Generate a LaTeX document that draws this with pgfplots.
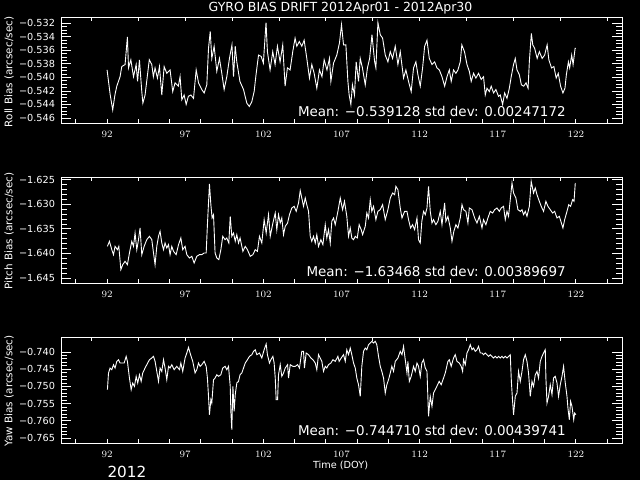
\documentclass[border=0pt]{standalone}
\usepackage{pgfplots}
\pgfplotsset{compat=1.18}
\usepackage{fontspec}
\setmainfont{DejaVu Sans}

\pgfplotsset{
  gyro/.style={
    scale only axis, width=403.92pt, height=76.32pt,
    anchor=south west,
    xmin=89.05, xmax=124.95,
    axis line style={white, line width=0.7pt},
    tick style={white, line width=0.6pt},
    tick align=inside,
    major tick length=7pt, minor tick length=4pt,
    xtick={92,97,...,122}, xtick style={draw=none},
    ticklabel style={text=white, font=\fontsize{7}{8}\selectfont},
    xticklabel style={yshift=-2.5pt},
    yticklabel style={xshift=-0.8pt},
    scaled y ticks=false,
  },
  gline/.style={draw=white, line width=0.65pt, mark=none},
}
\tikzset{mtick/.style={draw=white, line width=0.6pt}}

\begin{document}
\begin{tikzpicture}
\fill[black] (0,0) rectangle (460.8pt,345.6pt);
\useasboundingbox (0,0) rectangle (460.8pt,345.6pt);

% Roll
\begin{axis}[gyro, at={(43.92pt,257.04pt)}, height=76.1pt,
  ymin=-0.54674, ymax=-0.53112,
  ytick={-0.546,-0.544,-0.542,-0.540,-0.538,-0.536,-0.534,-0.532},
  yticklabels={−0.546,−0.544,−0.542,−0.540,−0.538,−0.536,−0.534,−0.532},
  minor y tick num=3]
\addplot[gline] coordinates {(92.0,-0.5389) (92.2,-0.5426) (92.36,-0.5448) (92.5,-0.5426) (92.62,-0.5413) (92.83,-0.5399) (92.94,-0.5384) (93.15,-0.5381) (93.3,-0.5340) (93.37,-0.5386) (93.52,-0.5374) (93.69,-0.5399) (93.86,-0.5381) (93.95,-0.5406) (94.07,-0.5374) (94.22,-0.5421) (94.29,-0.5438) (94.43,-0.5426) (94.7,-0.5374) (94.86,-0.5381) (94.96,-0.5399) (95.07,-0.5386) (95.22,-0.5401) (95.35,-0.5384) (95.5,-0.5426) (95.65,-0.5384) (95.82,-0.5394) (96.03,-0.5389) (96.2,-0.5421) (96.35,-0.5408) (96.56,-0.5413) (96.67,-0.5399) (96.78,-0.5433) (96.93,-0.5426) (97.06,-0.5440) (97.2,-0.5428) (97.36,-0.5426) (97.53,-0.5431) (97.7,-0.5389) (97.85,-0.5408) (98.06,-0.5418) (98.21,-0.5423) (98.38,-0.5411) (98.49,-0.5357) (98.6,-0.5332) (98.7,-0.5372) (98.85,-0.5354) (99.02,-0.5391) (99.19,-0.5372) (99.34,-0.5394) (99.49,-0.5418) (99.66,-0.5399) (99.83,-0.5372) (99.99,-0.5352) (100.09,-0.5399) (100.2,-0.5354) (100.3,-0.5377) (100.5,-0.5406) (100.73,-0.5418) (100.94,-0.5438) (101.1,-0.5443) (101.26,-0.5436) (101.41,-0.5421) (101.53,-0.5396) (101.69,-0.5367) (101.86,-0.5369) (102.0,-0.5379) (102.17,-0.5319) (102.26,-0.5362) (102.43,-0.5389) (102.6,-0.5362) (102.75,-0.5381) (102.9,-0.5354) (103.07,-0.5377) (103.24,-0.5352) (103.39,-0.5413) (103.54,-0.5386) (103.71,-0.5389) (103.88,-0.5362) (104.03,-0.5342) (104.14,-0.5354) (104.3,-0.5347) (104.46,-0.5354) (104.61,-0.5345) (104.78,-0.5372) (104.95,-0.5401) (105.1,-0.5381) (105.25,-0.5394) (105.42,-0.5416) (105.59,-0.5389) (105.75,-0.5399) (105.89,-0.5374) (106.07,-0.5389) (106.23,-0.5372) (106.32,-0.5406) (106.49,-0.5379) (106.7,-0.5367) (106.87,-0.5349) (107.0,-0.5322) (107.13,-0.5352) (107.28,-0.5352) (107.41,-0.5406) (107.49,-0.5426) (107.6,-0.5440) (107.7,-0.5411) (107.83,-0.5426) (107.94,-0.5377) (108.09,-0.5406) (108.2,-0.5372) (108.34,-0.5386) (108.52,-0.5411) (108.66,-0.5386) (108.8,-0.5372) (108.95,-0.5337) (109.12,-0.5377) (109.2,-0.5386) (109.33,-0.5319) (109.48,-0.5337) (109.63,-0.5342) (109.8,-0.5367) (109.97,-0.5377) (110.12,-0.5362) (110.27,-0.5372) (110.44,-0.5354) (110.61,-0.5381) (110.76,-0.5362) (110.97,-0.5401) (111.12,-0.5389) (111.29,-0.5406) (111.46,-0.5421) (111.61,-0.5386) (111.76,-0.5377) (111.89,-0.5396) (112.04,-0.5413) (112.19,-0.5386) (112.32,-0.5354) (112.47,-0.5345) (112.62,-0.5372) (112.79,-0.5381) (112.96,-0.5377) (113.11,-0.5386) (113.26,-0.5389) (113.43,-0.5399) (113.6,-0.5413) (113.75,-0.5399) (113.9,-0.5389) (114.02,-0.5406) (114.17,-0.5389) (114.32,-0.5394) (114.45,-0.5389) (114.6,-0.5377) (114.7,-0.5352) (114.87,-0.5362) (115.03,-0.5381) (115.18,-0.5391) (115.3,-0.5406) (115.45,-0.5394) (115.6,-0.5401) (115.77,-0.5394) (115.94,-0.5403) (116.09,-0.5399) (116.2,-0.5426) (116.31,-0.5416) (116.46,-0.5421) (116.58,-0.5413) (116.73,-0.5423) (116.88,-0.5418) (117.05,-0.5428) (117.16,-0.5426) (117.31,-0.5440) (117.44,-0.5423) (117.59,-0.5431) (117.74,-0.5416) (117.86,-0.5399) (118.01,-0.5381) (118.12,-0.5372) (118.23,-0.5389) (118.38,-0.5396) (118.51,-0.5411) (118.66,-0.5413) (118.81,-0.5408) (118.94,-0.5416) (119.02,-0.5377) (119.15,-0.5335) (119.24,-0.5352) (119.36,-0.5357) (119.52,-0.5372) (119.66,-0.5362) (119.84,-0.5372) (120.0,-0.5367) (120.16,-0.5352) (120.27,-0.5374) (120.44,-0.5386) (120.59,-0.5384) (120.74,-0.5401) (120.87,-0.5394) (121.02,-0.5413) (121.17,-0.5423) (121.3,-0.5416) (121.39,-0.5396) (121.52,-0.5377) (121.6,-0.5386) (121.73,-0.5367) (121.82,-0.5381) (121.95,-0.5357) (122.0,-0.5357)};
\pgfplotsinvokeforeach{90,92,94,96,98,100,102,104,106,108,110,112,114,116,118,120,122,124}{\draw[mtick] (axis cs:#1,-0.54674) -- (axis cs:#1,-0.54612);}
\pgfplotsinvokeforeach{91,94,97,100,103,106,109,112,115,118,121,124}{\draw[mtick] (axis cs:#1,-0.53112) -- (axis cs:#1,-0.53174);}
\end{axis}

% Pitch
\begin{axis}[gyro, at={(43.92pt,141.84pt)},
  ymin=-1.64602, ymax=-1.62445,
  ytick={-1.645,-1.640,-1.635,-1.630,-1.625},
  yticklabels={−1.645,−1.640,−1.635,−1.630,−1.625},
  minor y tick num=4]
\addplot[gline] coordinates {(92.02,-1.63856) (92.15,-1.63754) (92.30,-1.63924) (92.41,-1.64025) (92.51,-1.63856) (92.66,-1.63924) (92.75,-1.63856) (92.88,-1.64330) (93.0,-1.64229) (93.15,-1.64161) (93.30,-1.64229) (93.43,-1.63991) (93.58,-1.63754) (93.69,-1.63856) (93.79,-1.63585) (93.90,-1.63924) (94.01,-1.63720) (94.11,-1.63483) (94.22,-1.64025) (94.37,-1.63856) (94.54,-1.63720) (94.71,-1.63652) (94.86,-1.63720) (94.97,-1.63991) (95.07,-1.64229) (95.18,-1.63856) (95.29,-1.63652) (95.39,-1.63551) (95.50,-1.63788) (95.61,-1.63924) (95.71,-1.63788) (95.82,-1.63890) (95.93,-1.63822) (96.03,-1.64025) (96.14,-1.63856) (96.25,-1.63958) (96.42,-1.64025) (96.57,-1.63822) (96.72,-1.63686) (96.84,-1.63924) (96.99,-1.63856) (97.10,-1.64025) (97.27,-1.64093) (97.42,-1.64059) (97.57,-1.64195) (97.74,-1.64059) (97.91,-1.64025) (98.06,-1.64025) (98.21,-1.63991) (98.34,-1.63991) (98.42,-1.63415) (98.55,-1.62588) (98.64,-1.63008) (98.72,-1.63279) (98.81,-1.63211) (98.91,-1.63991) (99.02,-1.64093) (99.15,-1.64127) (99.28,-1.63924) (99.40,-1.63652) (99.55,-1.63720) (99.66,-1.63686) (99.79,-1.63788) (99.88,-1.63245) (99.98,-1.63652) (100.09,-1.63585) (100.20,-1.63754) (100.30,-1.63618) (100.41,-1.63788) (100.51,-1.63686) (100.69,-1.63958) (100.84,-1.63856) (100.98,-1.63924) (101.16,-1.64059) (101.33,-1.64025) (101.48,-1.63924) (101.62,-1.63958) (101.75,-1.63652) (101.90,-1.63788) (102.05,-1.63313) (102.18,-1.63585) (102.33,-1.63211) (102.44,-1.63652) (102.61,-1.63381) (102.76,-1.63178) (102.86,-1.63517) (102.97,-1.63211) (103.08,-1.63381) (103.18,-1.63279) (103.29,-1.63618) (103.40,-1.63449) (103.55,-1.63381) (103.67,-1.63211) (103.82,-1.63076) (103.97,-1.63042) (104.10,-1.63144) (104.25,-1.62974) (104.36,-1.62723) (104.46,-1.62873) (104.57,-1.63042) (104.68,-1.62873) (104.78,-1.63008) (104.89,-1.63144) (105.0,-1.63652) (105.10,-1.63754) (105.21,-1.63652) (105.32,-1.63788) (105.42,-1.63618) (105.53,-1.63856) (105.68,-1.63720) (105.81,-1.63822) (105.96,-1.63415) (106.06,-1.63686) (106.17,-1.63517) (106.28,-1.63788) (106.38,-1.63347) (106.49,-1.63279) (106.60,-1.63415) (106.77,-1.63144) (106.92,-1.62873) (107.07,-1.63110) (107.19,-1.62940) (107.34,-1.63245) (107.45,-1.63652) (107.56,-1.63483) (107.66,-1.63686) (107.77,-1.63720) (107.88,-1.63652) (108.01,-1.63686) (108.13,-1.63415) (108.26,-1.63517) (108.35,-1.63618) (108.52,-1.63449) (108.62,-1.63178) (108.73,-1.63279) (108.84,-1.62906) (108.94,-1.63144) (109.05,-1.63042) (109.20,-1.63313) (109.33,-1.63144) (109.48,-1.63110) (109.63,-1.63008) (109.80,-1.63313) (109.97,-1.63110) (110.12,-1.62873) (110.27,-1.62771) (110.40,-1.62805) (110.48,-1.62635) (110.61,-1.62703) (110.76,-1.63076) (110.87,-1.63279) (111.04,-1.63144) (111.19,-1.63144) (111.29,-1.63313) (111.42,-1.63483) (111.55,-1.63415) (111.68,-1.63517) (111.83,-1.63279) (111.93,-1.63720) (112.04,-1.63788) (112.14,-1.63347) (112.25,-1.63144) (112.36,-1.63211) (112.47,-1.63076) (112.57,-1.62635) (112.68,-1.63144) (112.79,-1.63381) (112.89,-1.63313) (113.04,-1.63415) (113.17,-1.63347) (113.32,-1.63144) (113.43,-1.63415) (113.60,-1.62974) (113.68,-1.63347) (113.81,-1.63245) (113.96,-1.63483) (114.07,-1.63754) (114.19,-1.63551) (114.32,-1.63415) (114.45,-1.63483) (114.60,-1.63279) (114.71,-1.63008) (114.81,-1.63110) (114.96,-1.63144) (115.09,-1.63381) (115.18,-1.63076) (115.35,-1.63110) (115.52,-1.63279) (115.67,-1.63381) (115.82,-1.63245) (115.99,-1.63483) (116.09,-1.63313) (116.24,-1.63415) (116.37,-1.63279) (116.52,-1.63144) (116.67,-1.63178) (116.80,-1.63110) (116.95,-1.63076) (117.10,-1.63144) (117.22,-1.63076) (117.37,-1.63042) (117.48,-1.63313) (117.59,-1.63144) (117.69,-1.63245) (117.80,-1.62906) (117.91,-1.62567) (118.01,-1.62771) (118.16,-1.62873) (118.29,-1.63110) (118.44,-1.63144) (118.55,-1.63110) (118.65,-1.63211) (118.76,-1.63144) (118.87,-1.63245) (119.02,-1.63042) (119.14,-1.62534) (119.29,-1.62771) (119.40,-1.62669) (119.51,-1.62805) (119.66,-1.62940) (119.78,-1.63042) (119.93,-1.63144) (120.08,-1.62940) (120.21,-1.63042) (120.36,-1.63110) (120.51,-1.63178) (120.64,-1.63144) (120.79,-1.63279) (120.94,-1.63245) (121.07,-1.63381) (121.17,-1.63483) (121.28,-1.63313) (121.43,-1.63144) (121.54,-1.63008) (121.66,-1.63042) (121.79,-1.62906) (121.88,-1.62940) (121.96,-1.62567)};
\pgfplotsinvokeforeach{90,92,94,96,98,100,102,104,106,108,110,112,114,116,118,120,122,124}{\draw[mtick] (axis cs:#1,-1.64602) -- (axis cs:#1,-1.64517);}
\pgfplotsinvokeforeach{91,94,97,100,103,106,109,112,115,118,121,124}{\draw[mtick] (axis cs:#1,-1.62445) -- (axis cs:#1,-1.62530);}
\end{axis}

% Yaw
\begin{axis}[gyro, at={(43.92pt,26.64pt)},
  ymin=-0.76645, ymax=-0.73564,
  ytick={-0.765,-0.760,-0.755,-0.750,-0.745,-0.740},
  yticklabels={−0.765,−0.760,−0.755,−0.750,−0.745,−0.740},
  minor y tick num=4]
\addplot[gline] coordinates {(92.02,-0.75096) (92.09,-0.74611) (92.19,-0.74466) (92.30,-0.74514) (92.41,-0.74369) (92.51,-0.74466) (92.62,-0.74272) (92.73,-0.74224) (92.83,-0.74321) (92.94,-0.74321) (93.09,-0.74321) (93.22,-0.74127) (93.30,-0.74272) (93.43,-0.74757) (93.54,-0.75096) (93.64,-0.74902) (93.75,-0.74999) (93.86,-0.74708) (93.96,-0.74902) (94.07,-0.74660) (94.18,-0.74854) (94.28,-0.74611) (94.43,-0.74466) (94.54,-0.74369) (94.71,-0.74224) (94.86,-0.74175) (94.97,-0.74127) (95.07,-0.74272) (95.18,-0.74563) (95.29,-0.74854) (95.39,-0.74466) (95.50,-0.74563) (95.61,-0.74224) (95.71,-0.74466) (95.82,-0.74805) (95.93,-0.74417) (96.03,-0.74466) (96.14,-0.74369) (96.29,-0.74514) (96.46,-0.74417) (96.63,-0.74514) (96.72,-0.74321) (96.84,-0.74563) (96.99,-0.74175) (97.10,-0.74030) (97.21,-0.73865) (97.31,-0.74030) (97.48,-0.74272) (97.63,-0.74611) (97.74,-0.74514) (97.85,-0.74321) (97.95,-0.74417) (98.06,-0.74369) (98.21,-0.74272) (98.34,-0.74417) (98.42,-0.74757) (98.49,-0.75290) (98.55,-0.75823) (98.64,-0.75387) (98.70,-0.75484) (98.81,-0.74805) (98.91,-0.74757) (99.02,-0.74660) (99.13,-0.74708) (99.28,-0.74660) (99.40,-0.74466) (99.55,-0.74417) (99.66,-0.74514) (99.77,-0.74417) (99.88,-0.74999) (99.92,-0.75726) (99.98,-0.76259) (100.05,-0.74999) (100.13,-0.75726) (100.20,-0.75241) (100.30,-0.74902) (100.41,-0.74854) (100.51,-0.74660) (100.62,-0.74611) (100.73,-0.74466) (100.84,-0.74321) (100.98,-0.74224) (101.11,-0.74127) (101.26,-0.74078) (101.37,-0.73981) (101.48,-0.73933) (101.58,-0.74078) (101.75,-0.74030) (101.90,-0.74175) (102.05,-0.73933) (102.18,-0.73768) (102.26,-0.74078) (102.39,-0.74321) (102.48,-0.74224) (102.61,-0.74127) (102.69,-0.74321) (102.76,-0.74757) (102.82,-0.75387) (102.91,-0.75387) (102.97,-0.74660) (103.08,-0.74369) (103.18,-0.74708) (103.29,-0.74611) (103.40,-0.74466) (103.55,-0.74369) (103.61,-0.74757) (103.72,-0.74369) (103.89,-0.74417) (104.04,-0.74417) (104.19,-0.74369) (104.31,-0.74466) (104.46,-0.73981) (104.57,-0.73981) (104.63,-0.74466) (104.74,-0.74030) (104.89,-0.74078) (105.04,-0.74175) (105.17,-0.74224) (105.32,-0.74321) (105.42,-0.74514) (105.53,-0.74078) (105.64,-0.74175) (105.74,-0.74272) (105.85,-0.74563) (105.96,-0.74417) (106.06,-0.74466) (106.17,-0.74369) (106.32,-0.74321) (106.45,-0.74224) (106.60,-0.74272) (106.77,-0.74127) (106.85,-0.74272) (106.98,-0.74175) (107.13,-0.74078) (107.24,-0.74272) (107.34,-0.73933) (107.45,-0.74078) (107.56,-0.73885) (107.66,-0.74078) (107.77,-0.74321) (107.88,-0.74466) (107.98,-0.74757) (108.09,-0.74951) (108.20,-0.75290) (108.30,-0.74417) (108.41,-0.73981) (108.52,-0.73885) (108.62,-0.73933) (108.73,-0.73788) (108.84,-0.73739) (108.94,-0.73691) (109.05,-0.73739) (109.16,-0.73691) (109.26,-0.73788) (109.37,-0.74127) (109.48,-0.74417) (109.58,-0.74563) (109.69,-0.74757) (109.80,-0.75193) (109.90,-0.74951) (110.01,-0.74805) (110.12,-0.74611) (110.22,-0.74417) (110.33,-0.74563) (110.44,-0.74272) (110.61,-0.74175) (110.76,-0.73981) (110.87,-0.74078) (110.97,-0.73836) (111.08,-0.74224) (111.19,-0.74611) (111.25,-0.74272) (111.34,-0.74854) (111.46,-0.74708) (111.61,-0.74417) (111.72,-0.74563) (111.83,-0.74321) (111.93,-0.74417) (112.04,-0.74708) (112.14,-0.74321) (112.25,-0.74224) (112.36,-0.74466) (112.47,-0.74563) (112.57,-0.75871) (112.68,-0.75290) (112.79,-0.75581) (112.89,-0.75193) (113.00,-0.75096) (113.10,-0.74999) (113.25,-0.74854) (113.38,-0.74951) (113.53,-0.74757) (113.64,-0.74611) (113.81,-0.74272) (113.90,-0.74224) (114.02,-0.74417) (114.17,-0.74175) (114.28,-0.74078) (114.39,-0.74272) (114.54,-0.74321) (114.66,-0.74417) (114.75,-0.74563) (114.81,-0.74224) (114.92,-0.74369) (115.03,-0.74030) (115.13,-0.73933) (115.24,-0.73788) (115.35,-0.73933) (115.45,-0.73885) (115.56,-0.73981) (115.67,-0.73933) (115.77,-0.73836) (115.88,-0.74030) (115.99,-0.74030) (116.09,-0.74078) (116.20,-0.74030) (116.31,-0.74078) (116.41,-0.74127) (116.52,-0.74078) (116.63,-0.74127) (116.73,-0.74175) (116.84,-0.74127) (116.95,-0.74175) (117.05,-0.74127) (117.16,-0.74175) (117.27,-0.74127) (117.37,-0.74175) (117.48,-0.74127) (117.59,-0.74175) (117.69,-0.74127) (117.80,-0.74078) (117.87,-0.74854) (117.95,-0.75435) (118.01,-0.75823) (118.12,-0.75290) (118.23,-0.75193) (118.33,-0.74563) (118.44,-0.74854) (118.55,-0.74563) (118.65,-0.74224) (118.76,-0.74078) (118.87,-0.74272) (118.97,-0.74611) (119.08,-0.75290) (119.19,-0.74854) (119.29,-0.74999) (119.40,-0.74660) (119.51,-0.74563) (119.61,-0.74757) (119.72,-0.74272) (119.83,-0.74127) (119.93,-0.74030) (120.04,-0.73933) (120.08,-0.74757) (120.15,-0.75484) (120.25,-0.75290) (120.36,-0.74951) (120.47,-0.75241) (120.57,-0.74757) (120.68,-0.74708) (120.79,-0.74902) (120.89,-0.75290) (121.00,-0.74951) (121.11,-0.74708) (121.21,-0.74417) (121.32,-0.74902) (121.43,-0.75290) (121.49,-0.75629) (121.58,-0.75968) (121.66,-0.75435) (121.75,-0.75581) (121.86,-0.75968) (121.92,-0.75774) (122.00,-0.75823)};
\pgfplotsinvokeforeach{90,92,94,96,98,100,102,104,106,108,110,112,114,116,118,120,122,124}{\draw[mtick] (axis cs:#1,-0.76645) -- (axis cs:#1,-0.76524);}
\pgfplotsinvokeforeach{91,94,97,100,103,106,109,112,115,118,121,124}{\draw[mtick] (axis cs:#1,-0.73564) -- (axis cs:#1,-0.73685);}
\end{axis}

% texts
\begin{scope}[every node/.style={text=white, inner sep=0pt}]
\node[font=\fontsize{9}{10}\selectfont] at (245.2pt,339.9pt) {GYRO BIAS DRIFT 2012Apr01 - 2012Apr30};
\node[rotate=90, font=\fontsize{7.5}{8}\selectfont] at (6.5pt,293.8pt) {Roll Bias (arcsec/sec)};
\node[rotate=90, font=\fontsize{7.5}{8}\selectfont] at (6.5pt,179.3pt) {Pitch Bias (arcsec/sec)};
\node[rotate=90, font=\fontsize{7.5}{8}\selectfont] at (6.5pt,64.1pt) {Yaw Bias (arcsec/sec)};
\node[anchor=base east, font=\fontsize{9.7}{10}\selectfont] at (407.5pt,261.6pt) {Mean: −0.539128 std dev: 0.00247172};
\node[anchor=base east, font=\fontsize{9.7}{10}\selectfont] at (407.5pt,146.4pt) {Mean: −1.63468 std dev: 0.00389697};
\node[anchor=base east, font=\fontsize{9.7}{10}\selectfont] at (407.5pt,32.0pt) {Mean: −0.744710 std dev: 0.00439741};
\node[font=\fontsize{7}{8}\selectfont] at (245.2pt,10.2pt) {Time (DOY)};
\node[anchor=base, font=\fontsize{11}{12}\selectfont] at (91.4pt,1.5pt) {2012};
\end{scope}
\end{tikzpicture}
\end{document}
